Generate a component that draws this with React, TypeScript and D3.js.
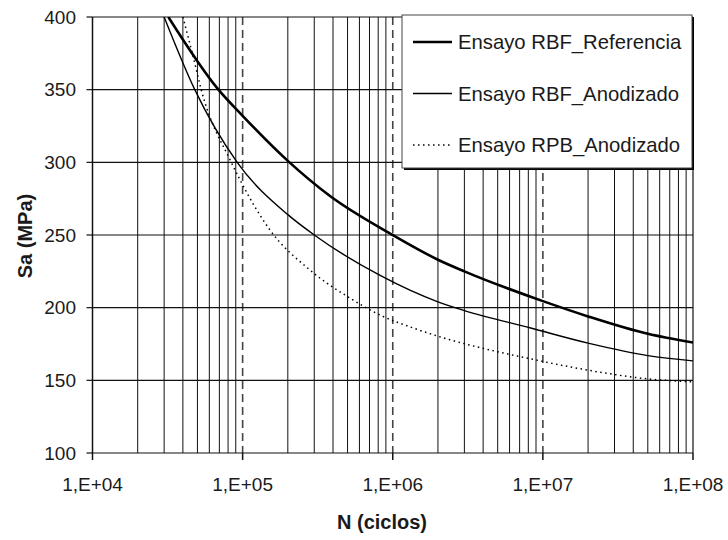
import { useEffect, useRef } from "react";
import * as d3 from "d3";

// curve values (N in cycles, Sa in MPa)
const nRef = [3.2e4, 6.9e4, 1e5, 2.0e5, 3.8e5, 1e6, 2e6, 3e6, 1e7, 2e7, 5e7, 1e8];
const sRef = [400, 350, 332, 301, 277, 250, 233, 225, 204.5, 194, 182, 176];

const nRbfAno = [3.0e4, 4.8e4, 9.2e4, 2.0e5, 3.0e5, 8.3e5, 2e6, 3e6, 8.3e6, 2e7, 5e7, 1e8];
const sRbfAno = [400, 350, 300, 264, 250, 222, 204, 198, 186, 175.6, 167, 163.4];

const nRpbAno = [4.0e4, 4.7e4, 5.3e4, 8.4e4, 9.6e4, 1.52e5, 2.8e5, 5.2e5, 8.6e5, 1.37e6, 1e7, 2e7, 5e7, 1e8];
const sRpbAno = [400, 372, 350, 300, 288, 253.5, 226, 206.5, 194, 186, 163, 157, 151, 149];

const seriesNames = ["Ensayo RBF_Referencia", "Ensayo RBF_Anodizado", "Ensayo RPB_Anodizado"];
const yTicks = [100, 150, 200, 250, 300, 350, 400];
const xDecades = [1e4, 1e5, 1e6, 1e7, 1e8];
const xTickLabels = ["1,E+04", "1,E+05", "1,E+06", "1,E+07", "1,E+08"];

const W = 728;
const H = 540;
const margin = { top: 17, right: 35, bottom: 87, left: 92.5 };
const font = "'Liberation Sans', Arial, sans-serif";

const App = () => {
  const ref = useRef<SVGSVGElement>(null);

  useEffect(() => {
    const svg = d3.select(ref.current);
    svg.selectAll("*").remove();

    const x = d3.scaleLog().domain([1e4, 1e8]).range([margin.left, W - margin.right]);
    const y = d3.scaleLinear().domain([100, 400]).range([H - margin.bottom, margin.top]);
    const [x0, x1] = x.range();
    const [y0, y1] = y.range();

    svg.append("defs").append("clipPath").attr("id", "plotClip")
      .append("rect").attr("x", x0).attr("y", y1).attr("width", x1 - x0).attr("height", y0 - y1);

    const grid = svg.append("g");

    // minor vertical lines 2..9 in every decade
    const minor: number[] = [];
    for (let d = 1e4; d < 1e8; d *= 10) for (let k = 2; k <= 9; k++) minor.push(d * k);
    grid.selectAll("line.minor").data(minor).enter().append("line")
      .attr("x1", (d) => x(d)).attr("x2", (d) => x(d))
      .attr("y1", y1).attr("y2", y0)
      .attr("stroke", "#111").attr("stroke-width", 1);

    // dashed decade lines
    grid.selectAll("line.major").data(xDecades.slice(1, -1)).enter().append("line")
      .attr("x1", (d) => x(d)).attr("x2", (d) => x(d))
      .attr("y1", y1).attr("y2", y0)
      .attr("stroke", "#444").attr("stroke-width", 1.6)
      .attr("stroke-dasharray", "8 5");

    // horizontal lines
    grid.selectAll("line.h").data(yTicks).enter().append("line")
      .attr("x1", x0).attr("x2", x1)
      .attr("y1", (d) => y(d)).attr("y2", (d) => y(d))
      .attr("stroke", "#111").attr("stroke-width", 1.2);

    // frame
    grid.append("line").attr("x1", x0).attr("x2", x0).attr("y1", y1).attr("y2", y0)
      .attr("stroke", "#111").attr("stroke-width", 1.5);
    grid.append("line").attr("x1", x1).attr("x2", x1).attr("y1", y1).attr("y2", y0)
      .attr("stroke", "#111").attr("stroke-width", 1.2);

    // ticks
    grid.selectAll("line.yt").data(yTicks).enter().append("line")
      .attr("x1", x0 - 6).attr("x2", x0)
      .attr("y1", (d) => y(d)).attr("y2", (d) => y(d))
      .attr("stroke", "#111").attr("stroke-width", 1.2);
    grid.selectAll("line.xt").data(xDecades).enter().append("line")
      .attr("x1", (d) => x(d)).attr("x2", (d) => x(d))
      .attr("y1", y0).attr("y2", y0 + 7)
      .attr("stroke", "#111").attr("stroke-width", 1.5);

    // tick labels
    svg.append("g").selectAll("text").data(yTicks).enter().append("text")
      .attr("x", 76).attr("y", (d) => y(d))
      .attr("dy", "0.35em").attr("text-anchor", "end")
      .style("font-family", font).style("font-size", "19px").attr("fill", "#1a1a1a")
      .text((d) => d);
    svg.append("g").selectAll("text").data(xDecades).enter().append("text")
      .attr("x", (d) => x(d)).attr("y", 491)
      .attr("text-anchor", "middle")
      .style("font-family", font).style("font-size", "19px").attr("fill", "#1a1a1a")
      .text((d, i) => xTickLabels[i]);

    // axis titles
    svg.append("text")
      .attr("x", 382).attr("y", 529)
      .attr("text-anchor", "middle")
      .style("font-family", font).style("font-size", "20px").style("font-weight", "bold")
      .attr("fill", "#1a1a1a")
      .text("N (ciclos)");
    svg.append("text")
      .attr("transform", `translate(32,${(y0 + y1) / 2 + 1}) rotate(-90)`)
      .attr("text-anchor", "middle")
      .style("font-family", font).style("font-size", "20px").style("font-weight", "bold")
      .attr("fill", "#1a1a1a")
      .text("Sa (MPa)");

    // curves
    const line = d3.line<[number, number]>()
      .x((d) => x(d[0])).y((d) => y(d[1]))
      .curve(d3.curveMonotoneX);
    const series = [
      { n: nRef, s: sRef, width: 2.6, dash: null },
      { n: nRbfAno, s: sRbfAno, width: 1.4, dash: null },
      { n: nRpbAno, s: sRpbAno, width: 1.5, dash: "1.5 3.5" },
    ];
    const curves = svg.append("g").attr("clip-path", "url(#plotClip)");
    series.forEach((sr) => {
      const pts = sr.n.map((v, i) => [v, sr.s[i]] as [number, number]);
      curves.append("path")
        .attr("d", line(pts))
        .attr("fill", "none")
        .attr("stroke", "#000")
        .attr("stroke-width", sr.width)
        .attr("stroke-dasharray", sr.dash);
    });

    // legend
    const lg = svg.append("g");
    const lx = 402, ly = 15, lw = 290, lh = 153;
    lg.append("rect").attr("x", lx + 2).attr("y", ly + 2).attr("width", lw).attr("height", lh)
      .attr("fill", "#000");
    lg.append("rect").attr("x", lx).attr("y", ly).attr("width", lw).attr("height", lh)
      .attr("fill", "#fff").attr("stroke", "#444").attr("stroke-width", 1);
    const rowY = [42, 93.5, 145];
    series.forEach((sr, i) => {
      lg.append("line")
        .attr("x1", 413).attr("x2", 452)
        .attr("y1", rowY[i]).attr("y2", rowY[i])
        .attr("stroke", "#000").attr("stroke-width", sr.width)
        .attr("stroke-dasharray", sr.dash);
      lg.append("text")
        .attr("x", 458).attr("y", rowY[i])
        .attr("dy", "0.35em")
        .style("font-family", font).style("font-size", "20.3px").attr("fill", "#1a1a1a")
        .text(seriesNames[i]);
    });
  }, []);

  return (
    <svg
      ref={ref}
      width={W}
      height={H}
      style={{ position: "absolute", left: 0, top: 0, background: "#fff" }}
    ></svg>
  );
};

export default App;
